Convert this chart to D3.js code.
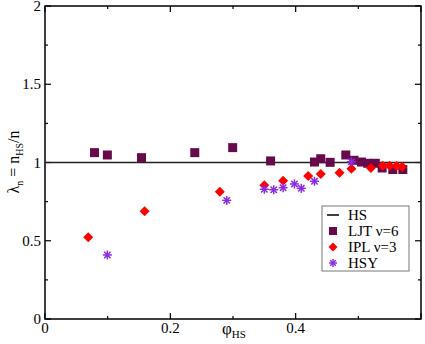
<!DOCTYPE html>
<html>
<head>
<meta charset="utf-8">
<script src="https://cdn.jsdelivr.net/npm/d3@7"></script>
<style>
  body { margin: 0; background: #fff; overflow: hidden; }
  svg { display: block; }
</style>
</head>
<body>
<svg id="chart"></svg>
<script>
// data
const ljtPhi = [0.079, 0.0995, 0.154, 0.239, 0.2995, 0.36, 0.430, 0.440, 0.455, 0.480, 0.493, 0.505, 0.515, 0.527, 0.538, 0.555, 0.571];
const ljtLam = [1.063, 1.048, 1.031, 1.063, 1.095, 1.010, 1.003, 1.024, 1.001, 1.048, 1.014, 1.003, 0.995, 0.995, 0.965, 0.955, 0.955];

const iplPhi = [0.069, 0.159, 0.279, 0.350, 0.380, 0.420, 0.440, 0.470, 0.489, 0.520, 0.539, 0.550, 0.561, 0.570];
const iplLam = [0.522, 0.688, 0.813, 0.854, 0.884, 0.914, 0.927, 0.935, 0.960, 0.965, 0.980, 0.980, 0.978, 0.973];

const hsyPhi = [0.0995, 0.290, 0.350, 0.365, 0.380, 0.398, 0.409, 0.430, 0.489];
const hsyLam = [0.409, 0.758, 0.829, 0.826, 0.839, 0.863, 0.835, 0.880, 1.005];

const xTicks = [0, 0.2, 0.4];
const yTicks = [0, 0.5, 1, 1.5, 2];
const legendNames = ["HS", "LJT \u03bd=6", "IPL \u03bd=3", "HSY"];

const width = 425, height = 344;
const margin = { top: 6, right: 4, bottom: 25, left: 45 };
const innerWidth = width - margin.left - margin.right;
const innerHeight = height - margin.top - margin.bottom;

const svg = d3.select("#chart").attr("width", width).attr("height", height)
  .attr("font-family", "'Liberation Serif', 'Times New Roman', 'DejaVu Serif', serif");
const g = svg.append("g").attr("transform", `translate(${margin.left},${margin.top})`);

const x = d3.scaleLinear().domain([0, 0.6]).range([0, innerWidth]);
const y = d3.scaleLinear().domain([0, 2]).range([innerHeight, 0]);

// frame
g.append("rect").attr("width", innerWidth).attr("height", innerHeight)
  .attr("fill", "none").attr("stroke", "#000").attr("stroke-width", 1.5);

// ticks (inward, all four sides)
function drawTicks() {
  const xMaj = [0, 0.2, 0.4, 0.6], xMin = [0.1, 0.3, 0.5];
  const yMaj = [0, 0.5, 1, 1.5, 2], yMin = [0.25, 0.75, 1.25, 1.75];
  const t = g.append("g").attr("stroke", "#000").attr("stroke-width", 1.2);
  xMaj.forEach(v => {
    t.append("line").attr("x1", x(v)).attr("x2", x(v)).attr("y1", innerHeight).attr("y2", innerHeight - 6);
    t.append("line").attr("x1", x(v)).attr("x2", x(v)).attr("y1", 0).attr("y2", 6);
  });
  xMin.forEach(v => {
    t.append("line").attr("x1", x(v)).attr("x2", x(v)).attr("y1", innerHeight).attr("y2", innerHeight - 3);
    t.append("line").attr("x1", x(v)).attr("x2", x(v)).attr("y1", 0).attr("y2", 3);
  });
  yMaj.forEach(v => {
    t.append("line").attr("y1", y(v)).attr("y2", y(v)).attr("x1", 0).attr("x2", 6);
    t.append("line").attr("y1", y(v)).attr("y2", y(v)).attr("x1", innerWidth).attr("x2", innerWidth - 6);
  });
  yMin.forEach(v => {
    t.append("line").attr("y1", y(v)).attr("y2", y(v)).attr("x1", 0).attr("x2", 3);
    t.append("line").attr("y1", y(v)).attr("y2", y(v)).attr("x1", innerWidth).attr("x2", innerWidth - 3);
  });
}
drawTicks();

// tick labels
g.selectAll(".xl").data(xTicks).join("text").attr("class", "xl")
  .attr("x", d => x(d)).attr("y", innerHeight + 14)
  .attr("text-anchor", "middle").attr("font-size", 15).text(d => d);
g.selectAll(".yl").data(yTicks).join("text").attr("class", "yl")
  .attr("x", -4).attr("y", d => y(d) + 5)
  .attr("text-anchor", "end").attr("font-size", 15).text(d => d);

// HS reference line
g.append("line").attr("x1", 0).attr("x2", innerWidth).attr("y1", y(1)).attr("y2", y(1))
  .attr("stroke", "#222").attr("stroke-width", 1.5);

const ljtColor = "#660a4c", iplColor = "#ff0000", hsyColor = "#8a2be2";

// LJT squares
g.selectAll(".ljt").data(ljtPhi).join("rect").attr("class", "ljt")
  .attr("x", (d) => x(d) - 4.5).attr("y", (d, i) => y(ljtLam[i]) - 4.5)
  .attr("width", 9).attr("height", 9).attr("fill", ljtColor);

// IPL diamonds
const diamond = d3.symbol().type(d3.symbolSquare).size(50);
g.selectAll(".ipl").data(iplPhi).join("path").attr("class", "ipl")
  .attr("d", diamond)
  .attr("transform", (d, i) => `translate(${x(d)},${y(iplLam[i])}) rotate(45)`)
  .attr("fill", iplColor);

// HSY stars
function star(sel, cx, cy, r) {
  const s = sel.append("g").attr("transform", `translate(${cx},${cy})`)
    .attr("stroke", hsyColor).attr("stroke-width", 1.5);
  [0, 45, 90, 135].forEach(a => {
    const rad = a * Math.PI / 180;
    s.append("line").attr("x1", -r * Math.cos(rad)).attr("y1", -r * Math.sin(rad))
      .attr("x2", r * Math.cos(rad)).attr("y2", r * Math.sin(rad));
  });
}
hsyPhi.forEach((d, i) => star(g, x(d), y(hsyLam[i]), 4.5));

// legend
const lg = svg.append("g").attr("transform", "translate(322,206)");
lg.append("rect").attr("width", 87).attr("height", 65)
  .attr("fill", "#fff").attr("stroke", "#777").attr("stroke-width", 1);
legendNames.forEach((name, i) => {
  const cy = 9 + i * 16;
  const sx = 11;
  if (i === 0) lg.append("line").attr("x1", sx - 6).attr("x2", sx + 6).attr("y1", cy).attr("y2", cy).attr("stroke", "#000").attr("stroke-width", 1.5);
  if (i === 1) lg.append("rect").attr("x", sx - 4).attr("y", cy - 4).attr("width", 8).attr("height", 8).attr("fill", ljtColor);
  if (i === 2) lg.append("path").attr("d", d3.symbol().type(d3.symbolSquare).size(40)).attr("transform", `translate(${sx},${cy}) rotate(45)`).attr("fill", iplColor);
  if (i === 3) star(lg, sx, cy, 4);
  lg.append("text").attr("x", 26).attr("y", cy + 5).attr("font-size", 15).text(name);
});

// axis titles
const xt = svg.append("text").attr("x", 222).attr("y", 334).attr("font-size", 17);
xt.append("tspan").text("\u03c6");
xt.append("tspan").attr("font-size", 11).attr("dy", 4).text("HS");

const yt = svg.append("text").attr("transform", "translate(19,162) rotate(-90)")
  .attr("text-anchor", "middle").attr("font-size", 16);
yt.append("tspan").text("\u03bb");
yt.append("tspan").attr("font-size", 10).attr("dy", 4).text("n");
yt.append("tspan").attr("dy", -4).text(" = n");
yt.append("tspan").attr("font-size", 10).attr("dy", 4).text("HS");
yt.append("tspan").attr("dy", -4).text("/n");
</script>
</body>
</html>
